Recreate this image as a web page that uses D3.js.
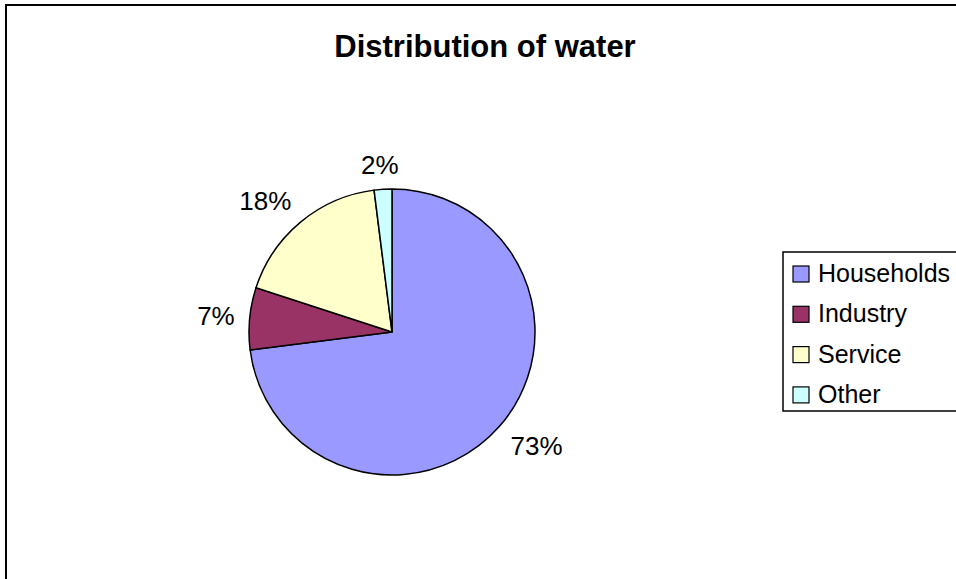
<!DOCTYPE html>
<html>
<head>
<meta charset="utf-8">
<script src="https://cdn.jsdelivr.net/npm/d3@7"></script>
<style>
  body { margin: 0; background: #fff; }
  text { font-family: "Liberation Sans", Arial, sans-serif; }
</style>
</head>
<body>
<div class="container"></div>
<script>
// Data
const categories = ["Households", "Industry", "Service", "Other"]
const shares = [73, 7, 18, 2]
const colors = ["#9999ff", "#993366", "#ffffcc", "#ccffff"]

const width = 956
const height = 579

const svg = d3.select(".container")
    .append("svg")
    .attr("width", width)
    .attr("height", height)

// Chart area border (right and bottom edges run off the picture)
svg.append("rect")
    .attr("x", 6)
    .attr("y", 5)
    .attr("width", 1000)
    .attr("height", 600)
    .attr("fill", "white")
    .attr("stroke", "black")
    .attr("stroke-width", 2)

// Title
svg.append("text")
    .attr("x", 485)
    .attr("y", 57)
    .attr("text-anchor", "middle")
    .attr("font-size", 31)
    .attr("font-weight", "bold")
    .text("Distribution of water")

// Pie
const cx = 392, cy = 332, r = 143

const pie = d3.pie().sort(null).value(d => d)
const arcs = pie(shares)

const arc = d3.arc().innerRadius(0).outerRadius(r)

const g = svg.append("g")
    .attr("transform", `translate(${cx}, ${cy})`)

g.selectAll("path")
    .data(arcs)
    .join("path")
    .attr("d", arc)
    .attr("fill", (d, i) => colors[i])
    .attr("stroke", "black")
    .attr("stroke-width", 1.5)
    .attr("stroke-linejoin", "round")

// Labels: anchor point just off the rim, text box hangs off it on the far side
const labelR = r + 15
const capH = 19
const clamp = v => Math.max(-1, Math.min(1, v))

const labels = g.selectAll("text.pct")
    .data(arcs)
    .join("text")
    .attr("class", "pct")
    .attr("font-size", 26)
    .attr("text-anchor", "middle")
    .text(d => d.data + "%")

labels.each(function (d) {
    const a = (d.startAngle + d.endAngle) / 2
    const s = Math.sin(a), c = Math.cos(a)
    const w = this.getBBox().width
    const px = s * labelR, py = -c * labelR
    const mx = px + clamp(s / 0.5) * w / 2
    const my = py + clamp(-c / 0.5) * capH / 2
    d3.select(this)
        .attr("x", mx)
        .attr("y", my + capH / 2)
})

// Legend
const legend = svg.append("g")
    .attr("transform", "translate(783, 252)")

legend.append("rect")
    .attr("width", 200)
    .attr("height", 159)
    .attr("fill", "white")
    .attr("stroke", "black")
    .attr("stroke-width", 1.5)

const item = legend.selectAll("g.item")
    .data(categories)
    .join("g")
    .attr("class", "item")
    .attr("transform", (d, i) => `translate(0, ${i * 40.3})`)

item.append("rect")
    .attr("x", 10)
    .attr("y", 14)
    .attr("width", 16)
    .attr("height", 16)
    .attr("fill", (d, i) => colors[i])
    .attr("stroke", "black")
    .attr("stroke-width", 1.2)

item.append("text")
    .attr("x", 35)
    .attr("y", 30)
    .attr("font-size", 25)
    .text(d => d)
</script>
</body>
</html>
